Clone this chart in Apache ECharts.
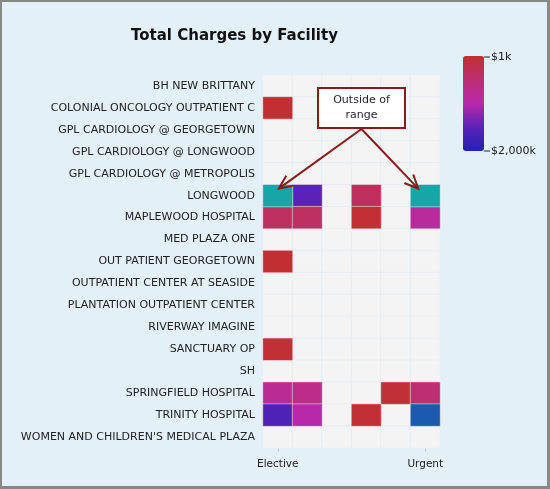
<!DOCTYPE html>
<html>
<head>
<meta charset="utf-8">
<script src="https://cdn.jsdelivr.net/npm/echarts@6/dist/echarts.min.js"></script>
<style>
html,body{margin:0;padding:0;background:#e3f0f7;}
#chart{position:absolute;left:0;top:0;width:550px;height:489px;}
#frame{position:absolute;left:0;top:0;width:550px;height:489px;box-sizing:border-box;border-left:2px solid #888;border-top:2px solid #888;border-right:3px solid #888;border-bottom:3px solid #888;pointer-events:none;}
</style>
</head>
<body>
<div id="chart"></div>
<div id="frame"></div>
<script>
// ---- data ----
var facilities = [
  'BH NEW BRITTANY',
  'COLONIAL ONCOLOGY OUTPATIENT C',
  'GPL CARDIOLOGY @ GEORGETOWN',
  'GPL CARDIOLOGY @ LONGWOOD',
  'GPL CARDIOLOGY @ METROPOLIS',
  'LONGWOOD',
  'MAPLEWOOD HOSPITAL',
  'MED PLAZA ONE',
  'OUT PATIENT GEORGETOWN',
  'OUTPATIENT CENTER AT SEASIDE',
  'PLANTATION OUTPATIENT CENTER',
  'RIVERWAY IMAGINE',
  'SANCTUARY OP',
  'SH',
  'SPRINGFIELD HOSPITAL',
  'TRINITY HOSPITAL',
  "WOMEN AND CHILDREN'S MEDICAL PLAZA"
];
var admissionTypes = ['Elective', 'Emergency', 'Newborn', 'Not Available', 'Trauma', 'Urgent'];
var shownTypeLabels = ['Elective', 'Urgent'];
// [admission type, facility, total charges in $k]
var charges = [
  ['Elective', 'COLONIAL ONCOLOGY OUTPATIENT C', 20],
  ['Elective', 'LONGWOOD', 0.6],
  ['Emergency', 'LONGWOOD', 1500],
  ['Not Available', 'LONGWOOD', 350],
  ['Urgent', 'LONGWOOD', 0.5],
  ['Elective', 'MAPLEWOOD HOSPITAL', 370],
  ['Emergency', 'MAPLEWOOD HOSPITAL', 400],
  ['Not Available', 'MAPLEWOOD HOSPITAL', 40],
  ['Urgent', 'MAPLEWOOD HOSPITAL', 880],
  ['Elective', 'OUT PATIENT GEORGETOWN', 30],
  ['Elective', 'SANCTUARY OP', 35],
  ['Elective', 'SPRINGFIELD HOSPITAL', 800],
  ['Emergency', 'SPRINGFIELD HOSPITAL', 700],
  ['Trauma', 'SPRINGFIELD HOSPITAL', 60],
  ['Urgent', 'SPRINGFIELD HOSPITAL', 500],
  ['Elective', 'TRINITY HOSPITAL', 1600],
  ['Emergency', 'TRINITY HOSPITAL', 1000],
  ['Not Available', 'TRINITY HOSPITAL', 50],
  ['Urgent', 'TRINITY HOSPITAL', 2400]
];
var rangeMin = 1, rangeMax = 2000; // $k
var legendLabels = ['$1k', '$2,000k'];
var titleText = 'Total Charges by Facility';
var annotationText = 'Outside of\nrange';

// ---- build ----
var FONT = 'DejaVu Sans';
var bgCells = [];
facilities.forEach(function (f) { admissionTypes.forEach(function (t) { bgCells.push([t, f, 0]); }); });
var inRange = charges.filter(function (d) { return d[2] >= rangeMin && d[2] <= rangeMax; });
var below = charges.filter(function (d) { return d[2] < rangeMin; });
var above = charges.filter(function (d) { return d[2] > rangeMax; });

var cellBorder = { borderColor: 'rgba(255,255,255,0.45)', borderWidth: 1 };

var chart = echarts.init(document.getElementById('chart'));
var vmLeft = 463, vmTop = 56, vmW = 21, vmH = 95;
var option = {
  animation: false,
  title: {
    text: titleText, left: 131, top: 29, padding: 0,
    textStyle: { fontFamily: FONT, fontSize: 15, fontWeight: 'bold', color: '#111' }
  },
  grid: { left: 263, right: 110, top: 75, bottom: 41 },
  xAxis: {
    type: 'category', data: admissionTypes,
    axisLine: { show: false },
    axisTick: { show: true, alignWithLabel: true, length: 4, lineStyle: { color: '#c8c8c8' },
      interval: function (i, v) { return shownTypeLabels.indexOf(v) >= 0; } },
    axisLabel: { fontFamily: FONT, fontSize: 10.5, color: '#222', margin: 11,
      interval: function (i, v) { return shownTypeLabels.indexOf(v) >= 0; } },
    splitLine: { show: false }
  },
  yAxis: {
    type: 'category', data: facilities, inverse: true,
    axisLine: { show: false }, axisTick: { show: false },
    axisLabel: { fontFamily: FONT, fontSize: 11, color: '#222', margin: 8, interval: 0 }
  },
  visualMap: {
    type: 'continuous', seriesIndex: 1,
    min: rangeMin, max: rangeMax, inverse: true, calculable: false,
    orient: 'vertical', left: vmLeft, top: vmTop, itemWidth: vmW, itemHeight: vmH,
    padding: 0, showLabel: false, hoverLink: false,
    inRange: { color: ['#c22f2f', '#bd2f72', '#b829aa', '#5a22b8', '#2222b4'] }
  },
  series: [
    { type: 'heatmap', data: bgCells, silent: true,
      itemStyle: { color: '#f4f4f4', borderColor: '#e5eef4', borderWidth: 1 } },
    { type: 'heatmap', data: inRange, itemStyle: cellBorder },
    { type: 'heatmap', data: below, itemStyle: Object.assign({ color: '#17a6a8' }, cellBorder) },
    { type: 'heatmap', data: above, itemStyle: Object.assign({ color: '#1b5aae' }, cellBorder) }
  ]
};
chart.setOption(option);

// ---- annotation & legend labels ----
var red = '#8b1a1a';
var graphics = [];
var box = { x: 318, y: 88, w: 87, h: 40 };
graphics.push({ type: 'rect', shape: { x: box.x, y: box.y, width: box.w, height: box.h },
  style: { fill: '#fff', stroke: red, lineWidth: 2 }, z: 100 });
graphics.push({ type: 'text', x: box.x + box.w / 2, y: box.y + box.h / 2,
  style: { text: annotationText, fontFamily: FONT, fontSize: 11, fill: '#1e1e30', align: 'center', verticalAlign: 'middle', lineHeight: 15 }, z: 101 });
var sx = box.x + box.w / 2, sy = box.y + box.h + 1;
below.forEach(function (d) {
  var c = chart.convertToPixel({ gridIndex: 0 }, [d[0], d[1]]);
  var tx = c[0] + (c[0] < sx ? 1 : -7), ty = c[1] - 7;
  var ang = Math.atan2(ty - sy, tx - sx);
  var L = 15, a = 0.42;
  var p1 = [tx - L * Math.cos(ang - a), ty - L * Math.sin(ang - a)];
  var p2 = [tx - L * Math.cos(ang + a), ty - L * Math.sin(ang + a)];
  graphics.push({ type: 'line', shape: { x1: sx, y1: sy, x2: tx, y2: ty }, style: { stroke: red, lineWidth: 2 }, z: 99 });
  graphics.push({ type: 'polyline', shape: { points: [p1, [tx, ty], p2] }, style: { stroke: red, lineWidth: 2, fill: null }, z: 99 });
});
[[legendLabels[0], vmTop + 1], [legendLabels[1], vmTop + vmH]].forEach(function (l) {
  graphics.push({ type: 'line', shape: { x1: vmLeft + vmW, y1: l[1], x2: vmLeft + vmW + 6, y2: l[1] }, style: { stroke: '#222', lineWidth: 1 } });
  graphics.push({ type: 'text', x: vmLeft + vmW + 7, y: l[1],
    style: { text: l[0], fontFamily: FONT, fontSize: 11, fill: '#222', verticalAlign: 'middle' } });
});
chart.setOption({ graphic: graphics });
</script>
</body>
</html>
